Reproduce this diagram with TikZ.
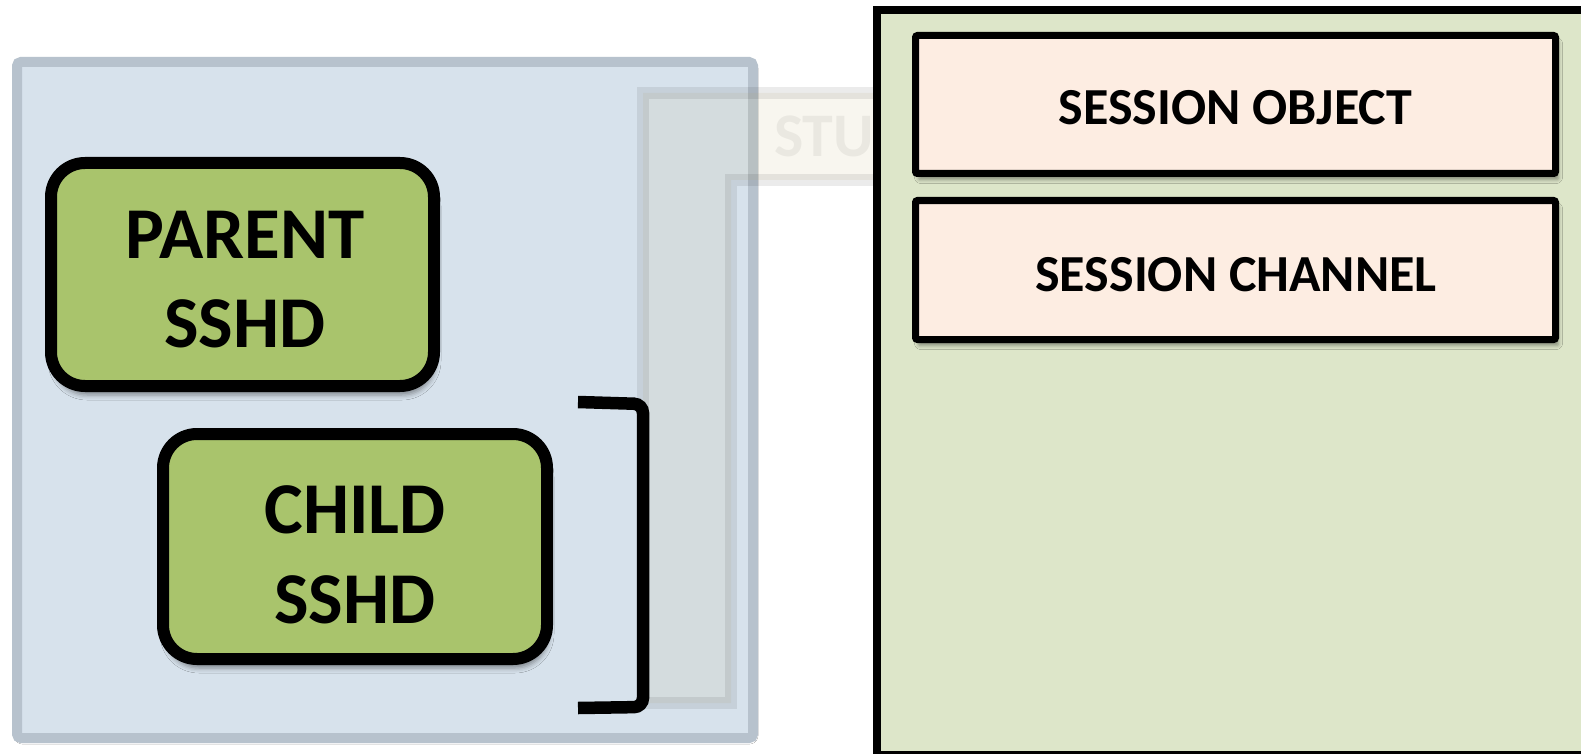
\documentclass[tikz,border=0pt]{standalone}
\usepackage{fontspec}
\newfontfamily\carl{Carlito}
\usetikzlibrary{shadows.blur}
\definecolor{bluefill}{HTML}{D7E2EC}
\definecolor{blueband}{HTML}{B7C2CD}
\definecolor{procgreen}{HTML}{A9C46C}
\definecolor{panelgreen}{HTML}{DDE6C9}
\definecolor{peach}{HTML}{FDEDE2}
\definecolor{fadetan}{RGB}{195,176,106}
\begin{document}
\begin{tikzpicture}[x=1pt,y=-1pt,
  hostbox/.style={draw=blueband, line width=10pt, fill=bluefill, rounded corners=4pt, inner sep=0pt,
    blur shadow={shadow xshift=1pt, shadow yshift=-2pt, shadow blur radius=4pt, shadow opacity=25}},
  procbox/.style={draw=black, line width=12pt, fill=procgreen, rounded corners=34pt, inner sep=0pt,
    blur shadow={shadow xshift=2pt, shadow yshift=-9pt, shadow blur radius=5pt, shadow opacity=40}},
  panelbox/.style={draw=black, line width=8pt, fill=panelgreen, inner sep=0pt},
  objbox/.style={draw=black, line width=7pt, fill=peach, rounded corners=2pt, inner sep=0pt,
    blur shadow={shadow xshift=3pt, shadow yshift=-6pt, shadow blur radius=4pt, shadow opacity=40}},
  bigtxt/.style={font=\carl\bfseries\fontsize{73}{89.5}\selectfont, align=center, inner sep=0pt},
  midtxt/.style={font=\carl\bfseries\fontsize{52}{60}\selectfont, inner sep=0pt},
  fadetxt/.style={font=\carl\bfseries\fontsize{62}{70}\selectfont, inner sep=0pt, text=black, text opacity=0.055},
  fadeshape/.style={fill=fadetan, fill opacity=0.1, draw=black, draw opacity=0.08, line width=12pt},
  bracketline/.style={draw=black, line width=12.5pt, rounded corners=9pt}
]
\useasboundingbox (0,0) rectangle (1581,754);
\clip (0,0) rectangle (1581,754);
\fill[white] (0,0) rectangle (1581,754);

% host box
\node[hostbox, minimum width=736pt, minimum height=676pt] (host) at (385,400) {};

% faded element behind
\path[fadeshape] (643,93) -- (1000,93) -- (1000,180) -- (731,180) -- (731,703) -- (643,703) -- cycle;
\node[fadetxt, anchor=base west] (stub) at (774,157) {STU};

% bracket
\coordinate (bta) at (578,402);
\coordinate (btb) at (643,404);
\coordinate (bbb) at (643,707);
\coordinate (bba) at (578,708);
\draw[bracketline] (bta) -- (btb) -- (bbb) -- (bba);

% processes
\node[procbox, minimum width=383pt, minimum height=223pt] (parent) at (242.5,274.5) {};
\node[bigtxt] (parenttxt) at (245,279.5) {PARENT\\SSHD};
\node[procbox, minimum width=384pt, minimum height=225pt] (child) at (355,546.5) {};
\node[bigtxt] (childtxt) at (355,555) {CHILD\\SSHD};

% right panel
\node[panelbox, minimum width=723pt, minimum height=745pt] (panel) at (1238.5,382.5) {};
\node[objbox, minimum width=640pt, minimum height=138pt] (sobj) at (1235.5,104.5) {};
\node[midtxt, anchor=base] (sobjtxt) at (1235.5,125) {SESSION OBJECT};
\node[objbox, minimum width=640pt, minimum height=139pt] (schan) at (1235.5,270) {};
\node[midtxt, anchor=base] (schantxt) at (1236,291) {SESSION CHANNEL};
\end{tikzpicture}
\end{document}
